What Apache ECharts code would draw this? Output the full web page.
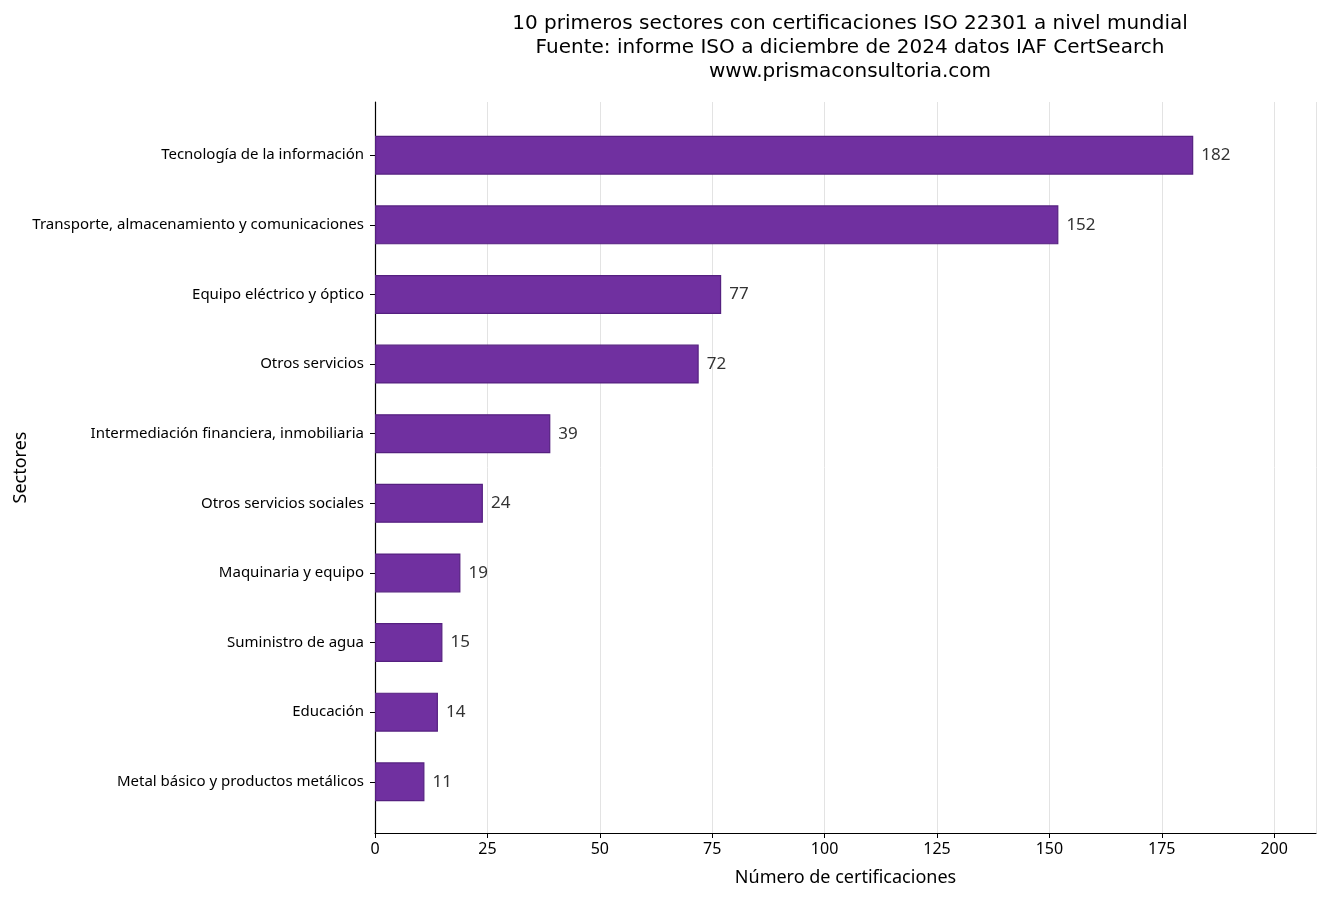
<!DOCTYPE html>
<html>
<head>
<meta charset="utf-8">
<script src="https://cdn.jsdelivr.net/npm/echarts@6/dist/echarts.min.js"></script>
<style>
  html, body { margin: 0; padding: 0; background: #fff; }
  #chart { width: 1328px; height: 899px; }
</style>
</head>
<body>
<div id="chart"></div>
<script>
// sectores, de mayor a menor
var sectores = [
  'Tecnología de la información',
  'Transporte, almacenamiento y comunicaciones',
  'Equipo eléctrico y óptico',
  'Otros servicios',
  'Intermediación financiera, inmobiliaria',
  'Otros servicios sociales',
  'Maquinaria y equipo',
  'Suministro de agua',
  'Educación',
  'Metal básico y productos metálicos'
];
var certificaciones = [182, 152, 77, 72, 39, 24, 19, 15, 14, 11];
var xTicks = [0, 25, 50, 75, 100, 125, 150, 175, 200];

var chart = echarts.init(document.getElementById('chart'));
var font = 'Noto Sans';
var xMax = 209.3;
// alto de cada categoria en px (el eje va de -0.75 a 9.75)
var band = (899 - 102 - 66) / 10.5;

var option = {
  backgroundColor: '#fff',
  animation: false,
  title: {
    text: '10 primeros sectores con certificaciones ISO 22301 a nivel mundial\nFuente: informe ISO a diciembre de 2024 datos IAF CertSearch\nwww.prismaconsultoria.com',
    left: 845,
    textAlign: 'center',
    top: 7,
    textStyle: {
      fontFamily: 'DejaVu Sans',
      fontWeight: 'normal',
      fontSize: 20,
      lineHeight: 24,
      color: '#000'
    }
  },
  grid: [
    { left: 375, right: 12, top: 102, bottom: 66 },
    { left: 375, right: 12, top: 103 + 0.25 * band, bottom: 65 + 0.25 * band }
  ],
  xAxis: [
    {
      gridIndex: 0,
      type: 'value',
      min: 0,
      max: xMax,
      interval: 25,
      name: 'Número de certificaciones',
      nameLocation: 'middle',
      nameGap: 36,
      nameTextStyle: { fontFamily: font, fontSize: 18, color: '#000' },
      axisLine: { show: true, lineStyle: { color: '#000', width: 1.2 } },
      axisTick: { show: true, length: 5, lineStyle: { color: '#000' } },
      axisLabel: {
        fontFamily: font, fontSize: 16, color: '#000', margin: 8,
        showMaxLabel: false,
        formatter: function (v) { return xTicks.indexOf(v) >= 0 ? String(v) : ''; }
      },
      splitLine: { show: true, lineStyle: { color: '#e3e3e3', width: 1 } }
    },
    {
      gridIndex: 1,
      type: 'value',
      min: 0,
      max: xMax,
      show: false
    }
  ],
  yAxis: [
    {
      gridIndex: 0,
      type: 'value',
      min: 0,
      max: 1,
      name: 'Sectores',
      nameLocation: 'middle',
      nameGap: 345,
      nameRotate: 90,
      nameTextStyle: { fontFamily: font, fontSize: 18, color: '#000' },
      axisLine: { show: true, onZero: false, lineStyle: { color: '#000', width: 1.2 } },
      axisTick: { show: false },
      axisLabel: { show: false },
      splitLine: { show: false }
    },
    {
      gridIndex: 1,
      type: 'category',
      inverse: true,
      data: sectores,
      axisLine: { show: false },
      axisTick: { show: true, alignWithLabel: true, length: 5, lineStyle: { color: '#000' } },
      axisLabel: { fontFamily: font, fontSize: 15, color: '#000', margin: 11 }
    }
  ],
  series: [
    {
      type: 'bar',
      xAxisIndex: 1,
      yAxisIndex: 1,
      data: certificaciones,
      barWidth: 0.56 * band,
      itemStyle: {
        color: '#7030a0',
        borderColor: '#552080',
        borderWidth: 1.2
      },
      label: {
        show: true,
        position: 'right',
        distance: 8,
        fontFamily: font,
        fontSize: 17,
        color: '#333'
      }
    }
  ]
};

chart.setOption(option);
</script>
</body>
</html>
